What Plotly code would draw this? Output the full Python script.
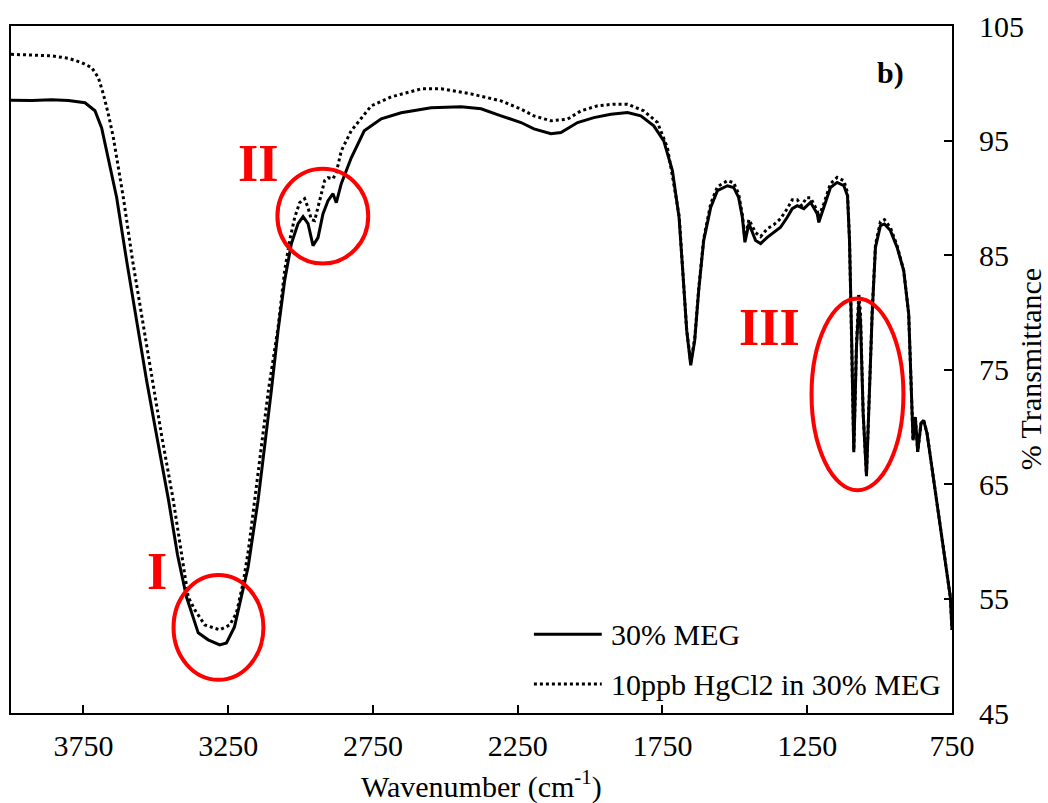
import plotly.graph_objects as go

# FTIR spectrum: 30% MEG
meg_wn = [4000, 3928.3, 3859.3, 3801.7, 3744.4, 3710, 3686.9, 3663.8, 3635.1, 3600.7,
          3566.2, 3531.7, 3497.2, 3455.9, 3424.8, 3393.8, 3353.4, 3319, 3279, 3255.8,
          3228.2, 3204.1, 3181, 3146.5, 3124.8, 3100.7, 3077.6, 3054.8, 3031.7, 3008.6,
          2991.3, 2974.1, 2956.9, 2939.6, 2922.4, 2905.1, 2887.9, 2876.5, 2859.3, 2824.8,
          2780, 2721.3, 2652.4, 2548.9, 2445.5, 2376.5, 2307.6, 2238.6, 2193.8, 2135.1,
          2100.7, 2043.1, 1986.9, 1928.3, 1870.7, 1824.8, 1780, 1745.5, 1715.5, 1692.7,
          1680, 1666.2, 1652.4, 1638.6, 1624.8, 1607.6, 1583.4, 1560.3, 1525.8, 1504.1,
          1487, 1474.1, 1465.2, 1451.4, 1428.3, 1410.9, 1388, 1365.1, 1342.1, 1319,
          1301.7, 1284.5, 1261.7, 1238.6, 1215.5, 1210, 1192.8, 1169.7, 1146.6, 1123.5,
          1110.9, 1104.0, 1097.1, 1089.2, 1079.9, 1071.9, 1066.1, 1056.8, 1045.4, 1037.5,
          1025.7, 1014.3, 997.2, 983.4, 962.7, 939.6, 916.8, 899.6, 893.8, 887.9,
          884.5, 876.5, 868.5, 857, 847.9, 836.2, 813.4, 790.3, 767.2, 755.8, 750]
meg_t = [98.52, 98.5, 98.55, 98.5, 98.3, 97.6, 96.1, 93.52, 90.03, 84.51,
         79.28, 74.05, 69.26, 63.59, 58.8, 55.13, 52.0, 51.39, 50.95, 51.12,
         52.52, 55.13, 57.75, 63.59, 67.95, 73.18, 78.41, 82.77, 85.99, 87.74,
         88.35, 87.74, 85.82, 86.52, 88.61, 89.74, 90.35, 89.57, 91.23, 93.49,
         95.85, 96.89, 97.42, 97.85, 97.94, 97.77, 97.15, 96.57, 96.02, 95.59,
         95.7, 96.57, 97.0, 97.3, 97.44, 97.15, 96.28, 94.97, 92.36, 88.29,
         83.64, 78.41, 75.36, 77.54, 81.9, 86.26, 89.16, 90.62, 91.05, 90.9,
         90.03, 88.29, 86.11, 87.74, 86.26, 86.0, 86.54, 86.98, 87.42, 88.29,
         89.05, 89.31, 89.05, 89.6, 88.61, 87.85, 89.16, 90.9, 91.34, 91.05,
         90.18, 86.26, 78.41, 67.77, 76.96, 80.74, 79.28, 71.15, 65.68, 71.15,
         79.87, 85.67, 87.56, 87.71, 87.13, 85.67, 83.64, 79.87, 75.79, 71.15,
         68.82, 70.85, 67.8, 70.3, 70.56, 69.43, 65.33, 60.97, 57.22, 55.13, 52.25]

# FTIR spectrum: 10 ppb HgCl2 in 30% MEG
hg_wn = [4000, 3928.3, 3859.3, 3801.7, 3755.8, 3721.4, 3698.2, 3681, 3663.8, 3646.5,
         3629.3, 3612.1, 3580, 3545.5, 3511, 3480, 3439.6, 3411, 3387.9, 3365.1,
         3330.7, 3279, 3244.4, 3221.4, 3198.3, 3180, 3158.3, 3135.2, 3111, 3077.6,
         3054.8, 3037.5, 3020.3, 3003.1, 2985.8, 2974.1, 2962.7, 2951.3, 2934.1, 2916.8,
         2905.1, 2887.9, 2876.5, 2859.3, 2824.8, 2755.8, 2686.9, 2583.4, 2514.4, 2411,
         2307.6, 2238.6, 2193.8, 2135.1, 2077.5, 2031.7, 1974.1, 1918.3, 1870.7, 1814.4,
         1767.2, 1733.0, 1711.0, 1692, 1680, 1666.2, 1652.4, 1638.6, 1624.8, 1607.6,
         1583.4, 1560.3, 1525.8, 1504.1, 1487, 1474.1, 1465.2, 1451.4, 1428.3, 1410.9,
         1388, 1365.1, 1342.1, 1319, 1301.7, 1284.5, 1269.5, 1252.3, 1238.6, 1215.5,
         1210, 1192.8, 1169.7, 1146.6, 1123.5, 1110.9, 1104, 1097.1, 1089.2, 1079.9,
         1071.9, 1066.1, 1056.8, 1045.4, 1037.5, 1025.7, 1014.3, 997.2, 983.4, 962.7,
         939.6, 916.8, 899.6, 893.8, 887.9, 884.5, 876.5, 868.5, 857, 847.9,
         836.2, 813.4, 790.3, 767.2, 755.8, 750]
hg_t = [102.53, 102.47, 102.39, 102.18, 101.8, 101.37, 100.49, 99.05, 97.3, 95.26,
        92.65, 90.03, 84.51, 79.28, 74.05, 69.26, 63.59, 58.8, 55.13, 54.0,
        52.69, 52.26, 52.69, 53.74, 56.36, 59.23, 63.59, 68.39, 73.18, 78.67,
        83.64, 86.26, 88.26, 89.57, 89.92, 89.13, 88.09, 88.0, 89.74, 91.49,
        91.75, 91.66, 92.19, 94.1, 95.85, 98.03, 98.81, 99.51, 99.51, 99.07,
        98.46, 97.74, 97.15, 96.72, 96.87, 97.59, 98.03, 98.17, 98.17, 97.59,
        96.57, 94.39, 91.23, 88.35, 83.64, 78.41, 75.62, 77.71, 82.07, 86.43,
        89.48, 90.96, 91.49, 91.31, 90.35, 88.52, 86.43, 88.09, 86.95, 86.61,
        87.3, 87.65, 88.17, 89.05, 89.83, 89.83, 89.31, 90.0, 90.0, 88.87,
        88.35, 89.48, 91.23, 91.78, 91.49, 90.44, 86.43, 78.41, 67.95, 77.19,
        81.64, 79.98, 71.17, 65.77, 71.17, 80.07, 85.91, 87.91, 88.09, 87.39,
        85.82, 83.64, 79.87, 75.79, 71.15, 68.82, 70.85, 67.8, 70.3, 70.56,
        69.43, 65.33, 60.97, 57.22, 55.13, 52.25]

series_names = ["30% MEG", "10ppb HgCl2 in 30% MEG"]
x_ticks = [3750, 3250, 2750, 2250, 1750, 1250, 750]
y_ticks = [45, 55, 65, 75, 85, 95, 105]

FONT = "Liberation Serif, Times New Roman, serif"
FS = 30

fig = go.Figure()
fig.add_trace(go.Scatter(x=hg_wn, y=hg_t, mode="lines", name=series_names[1],
                         line=dict(color="black", width=3, dash="3px,3px"),
                         showlegend=False))
fig.add_trace(go.Scatter(x=meg_wn, y=meg_t, mode="lines", name=series_names[0],
                         line=dict(color="black", width=3),
                         showlegend=False))

# highlighted regions
red = "#ff0000"
regions = [
    (3438.6, 3128.2, 57.05, 47.9),
    (3079.9, 2766.2, 92.53, 84.25),
    (1235.1, 917.8, 81.2, 64.46),
]
for x0, x1, y0, y1 in regions:
    fig.add_shape(type="circle", xref="x", yref="y", x0=x0, x1=x1, y0=y0, y1=y1,
                  line=dict(color=red, width=4))

region_labels = [("I", 0.1548, 0.2059), ("II", 0.2630, 0.7994), ("III", 0.8059, 0.5610)]
for txt, px, py in region_labels:
    fig.add_annotation(text=txt, xref="paper", yref="paper", x=px, y=py,
                       showarrow=False, xanchor="center", yanchor="middle",
                       font=dict(family=FONT, size=52, color=red, weight="bold"))

# panel tag
fig.add_annotation(text="b)", xref="paper", yref="paper", x=0.9343, y=0.932,
                   showarrow=False, xanchor="center", yanchor="middle",
                   font=dict(family=FONT, size=FS, color="black", weight="bold"))

# legend drawn as line samples with labels
legend_rows = [(0.1148, "solid"), (0.0422, "3px,3px")]
for (ly, dash), name in zip(legend_rows, series_names):
    fig.add_shape(type="line", xref="paper", yref="paper", x0=0.5557, x1=0.6278,
                  y0=ly, y1=ly, line=dict(color="black", width=3, dash=dash))
    fig.add_annotation(text=name, xref="paper", yref="paper", x=0.6352, y=ly,
                       showarrow=False, xanchor="left", yanchor="middle",
                       font=dict(family=FONT, size=FS, color="black"))

# axis titles
fig.add_annotation(text="Wavenumber (cm<sup>-1</sup>)", xref="paper", yref="paper",
                   x=0.5, y=-0.1035, showarrow=False, xanchor="center", yanchor="middle",
                   font=dict(family=FONT, size=FS, color="black"))
fig.add_annotation(text="% Transmittance", xref="paper", yref="paper",
                   x=1.0838, y=0.5015, textangle=-90, showarrow=False,
                   xanchor="center", yanchor="middle",
                   font=dict(family=FONT, size=FS, color="black"))

fig.update_layout(
    width=1048, height=803,
    margin=dict(l=9, r=96, t=25, b=90),
    paper_bgcolor="white", plot_bgcolor="white",
    font=dict(family=FONT, size=FS, color="black"),
    showlegend=False,
)
fig.update_xaxes(range=[4000, 750], tickvals=x_ticks, ticktext=[str(v) for v in x_ticks],
                 ticks="inside", ticklen=8, tickwidth=2, tickcolor="black",
                 showline=True, linewidth=2, linecolor="black", mirror=True,
                 showgrid=False, zeroline=False, ticklabelstandoff=5,
                 tickfont=dict(family=FONT, size=FS, color="black"))
fig.update_yaxes(range=[45, 105], tickvals=y_ticks, side="right",
                 ticks="inside", ticklen=8, tickwidth=2, tickcolor="black",
                 showline=True, linewidth=2, linecolor="black", mirror=True,
                 showgrid=False, zeroline=False, ticklabelstandoff=19,
                 tickfont=dict(family=FONT, size=FS, color="black"))

fig.write_html("out.html")
